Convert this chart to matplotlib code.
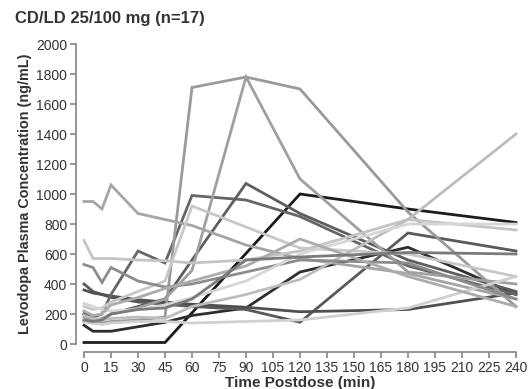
import matplotlib.pyplot as plt

plt.rcParams["font.family"] = ["Liberation Sans", "DejaVu Sans"]

# sampling times (min) and per-patient levodopa concentrations (ng/mL)
times = [0, 5, 10, 15, 30, 45, 60, 90, 120, 180, 240]

p01 = [10, 10, 10, 10, 10, 10, 208, 604, 1000, 900, 810]
p02 = [125, 85, 85, 85, 115, 145, 190, 240, 480, 645, 330]
p03 = [400, 350, 330, 310, 280, 265, 250, 230, 145, 740, 620]
p04 = [360, 340, 330, 320, 295, 280, 265, 245, 215, 230, 340]
p05 = [200, 180, 200, 330, 620, 540, 990, 960, 850, 520, 330]
p06 = [200, 170, 160, 200, 250, 300, 560, 1070, 870, 560, 350]
p07 = [150, 140, 140, 150, 160, 180, 1710, 1780, 1700, 880, 250]
p08 = [180, 160, 170, 200, 240, 300, 490, 1780, 1100, 480, 400]
p09 = [950, 950, 900, 1060, 870, 830, 790, 660, 570, 470, 300]
p10 = [690, 570, 570, 570, 560, 555, 540, 560, 620, 830, 760]
p11 = [250, 230, 240, 280, 350, 420, 920, 780, 640, 600, 450]
p12 = [150, 140, 130, 140, 150, 150, 140, 150, 160, 240, 450]
p13 = [190, 170, 160, 170, 180, 170, 250, 330, 430, 830, 1400]
p14 = [530, 510, 410, 510, 420, 380, 400, 480, 560, 540, 300]
p15 = [270, 250, 230, 220, 230, 260, 310, 420, 600, 800, 800]
p16 = [220, 190, 200, 260, 310, 370, 420, 520, 700, 450, 250]
p17 = [160, 150, 160, 200, 230, 240, 300, 560, 580, 610, 600]

patients = [p01, p02, p03, p04, p05, p06, p07, p08, p09, p10,
            p11, p12, p13, p14, p15, p16, p17]
greys = ["#1c1c1c", "#2e2e2e", "#5a5a5a", "#505050", "#666666", "#5e5e5e",
         "#9a9a9a", "#a0a0a0", "#a5a5a5", "#c4c4c4", "#c8c8c8", "#d0d0d0",
         "#bdbdbd", "#8c8c8c", "#d6d6d6", "#acacac", "#7a7a7a"]

fig = plt.figure(figsize=(5.31, 3.89), dpi=100)
ax = fig.add_axes([84 / 531, 45 / 389, 432 / 531, 300 / 389])

for vals, c in zip(patients, greys):
    ax.plot(times, vals, color=c, lw=2.0, clip_on=False, solid_joinstyle="miter")

ax.set_xlim(0, 240)
ax.set_ylim(0, 2000)
ax.set_xticks(range(0, 241, 15))
ax.set_yticks(range(0, 2001, 200))

for side in ["top", "right"]:
    ax.spines[side].set_visible(False)
for side in ["left", "bottom"]:
    ax.spines[side].set_position(("outward", 6))
    ax.spines[side].set_color("#858585")
    ax.spines[side].set_linewidth(1.2)
ax.tick_params(colors="#858585", length=4, width=1.2, labelsize=10,
               labelcolor="#333333", pad=2)

ax.set_xlabel("Time Postdose (min)", fontsize=11, fontweight="bold",
              color="#333333", labelpad=1)
ax.set_ylabel("Levodopa Plasma Concentration (ng/mL)", fontsize=10.4,
              fontweight="bold", color="#333333", labelpad=3)
fig.text(15 / 531, 1 - 18 / 389, "CD/LD 25/100 mg (n=17)", fontsize=12,
         fontweight="bold", color="#333333", va="center", ha="left")

fig.savefig("out.png", dpi=100)
